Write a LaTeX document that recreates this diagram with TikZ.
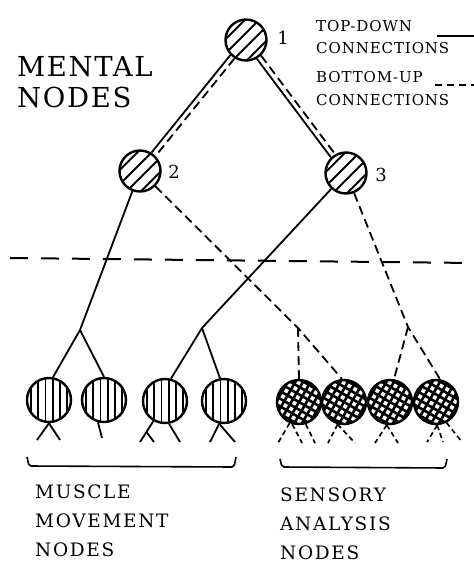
\documentclass[tikz,border=0pt]{standalone}
\usepackage{fontspec}
\setmainfont{DejaVu Serif}
\newfontfamily\bigsp[LetterSpace=6]{DejaVu Serif}
\newfontfamily\midsp[LetterSpace=9]{DejaVu Serif}
\newfontfamily\smallsp[LetterSpace=6]{DejaVu Serif}
\begin{document}
\begin{tikzpicture}[x=1pt,y=-1pt,
  ln/.style={line width=1.8pt},
  dsh/.style={line width=1.8pt,dash pattern=on 9pt off 5pt},
  legdash/.style={line width=1.7pt,dash pattern=on 5pt off 3.5pt},
  ring/.style={circle,draw,line width=2.4pt,inner sep=0pt,fill=white},
  mental/.style={ring,minimum size=41pt,
    path picture={\foreach \i in {-1.5,-0.5,0.5,1.5}{\draw[line width=2pt,shift={(path picture bounding box.center)}] ([shift={(-45:\i*10pt)}]45:30pt) -- ([shift={(-45:\i*10pt)}]225:30pt);}}},
  muscle/.style={ring,minimum size=44pt,
    path picture={\foreach \i in {-2.5,-1.5,-0.5,0.5,1.5,2.5}{\draw[line width=1.7pt,shift={(path picture bounding box.center)}] ([shift={(0:\i*7.3pt)}]90:30pt) -- ([shift={(0:\i*7.3pt)}]270:30pt);}}},
  sensory/.style={ring,minimum size=44pt,
    path picture={\foreach \i in {-4,...,4}{\draw[line width=2.6pt,shift={(path picture bounding box.center)}] ([shift={(-30:\i*6.6pt)}]60:30pt) -- ([shift={(-30:\i*6.6pt)}]240:30pt);
      \draw[line width=2.6pt,shift={(path picture bounding box.center)}] ([shift={(60:\i*6.6pt)}]-30:30pt) -- ([shift={(60:\i*6.6pt)}]150:30pt);}}},
  num/.style={inner sep=0pt,font=\fontsize{18}{22}\selectfont},
  biglbl/.style={inner sep=0pt,anchor=west,font=\fontsize{27.5}{33}\bigsp},
  botlbl/.style={inner sep=0pt,anchor=west,font=\fontsize{18.5}{22}\midsp},
  leglbl/.style={inner sep=0pt,anchor=west,font=\fontsize{15}{18}\smallsp},
  bracket/.style={line width=1.6pt,rounded corners=2pt}
]
\useasboundingbox (0,0) rectangle (474,563);

% mental nodes
\node[mental] (n1) at (246,40) {};
\node[mental] (n2) at (140,171) {};
\node[mental] (n3) at (346,173) {};
\node[num] (l1) at (283,38) {1};
\node[num] (l2) at (174,172) {2};
\node[num] (l3) at (381,175) {3};

% muscle movement nodes
\node[muscle] (A) at (49,400) {};
\node[muscle] (B) at (104,400) {};
\node[muscle] (C) at (165,401) {};
\node[muscle] (D) at (224,401) {};
% sensory analysis nodes
\node[sensory] (E) at (299,402) {};
\node[sensory] (F) at (344,402) {};
\node[sensory] (G) at (390,402) {};
\node[sensory] (H) at (436,402) {};

% branch points
\coordinate (b1) at (80,330);
\coordinate (b2) at (202,328);
\coordinate (b3) at (298,328);
\coordinate (b4) at (408,327);

% top connections (double)
\draw[ln] (n1.224) -- (n2.58);
\draw[dsh] (n1.238) -- (n2.44);
\draw[ln] (n1.300) -- (n3.134);
\draw[dsh] (n1.314) -- (n3.120);

% top-down
\draw[ln] (n2) -- (b1);
\draw[ln] (b1) -- (A.80);
\draw[ln] (b1) -- (B.north);
\draw[ln] (n3) -- (b2);
\draw[ln] (b2) -- (C.75);
\draw[ln] (b2) -- (D.100);
% bottom-up
\draw[dsh] (n2) -- (b3) -- (F.95);
\draw[dsh] (b3) -- (E.north);
\draw[dsh] (n3) -- (b4) -- (H.80);
\draw[dsh] (b4) -- (G.80);

% dividing line
\coordinate (h1) at (10,258);
\coordinate (h2) at (474,263);
\draw[line width=2pt,dash pattern=on 18pt off 13pt] (h1) -- (h2);

% muscle legs
\coordinate (a1) at (37,440); \coordinate (a2) at (60,440);
\draw[ln] (A.south) -- (a1);
\draw[ln] (A.south) -- (a2);
\coordinate (bb1) at (102,438);
\draw[ln] (B.255) -- (bb1);
\coordinate (c1) at (140,442); \coordinate (cj) at (146.5,432); \coordinate (c2) at (154,442); \coordinate (c3) at (180,442);
\draw[ln] (C.240) -- (c1);
\draw[ln] (cj) -- (c2);
\draw[ln] (C.280) -- (c3);
\coordinate (d1) at (210,442); \coordinate (d2) at (235,442);
\draw[ln] (D.258) -- (d1);
\draw[ln] (D.258) -- (d2);

% sensory legs
\coordinate (e1) at (278,443); \coordinate (e2) at (302,443); \coordinate (e3) at (315,443);
\draw[legdash] (E.246) -- (e1);
\draw[legdash] (E.253) -- (e2);
\draw[legdash] (E.287) -- (e3);
\coordinate (f1) at (328,443); \coordinate (f2) at (355,443);
\draw[legdash] (F.254) -- (f1);
\draw[legdash] (F.254) -- (f2);
\coordinate (g1) at (375,443); \coordinate (g2) at (398,443);
\draw[legdash] (G.262) -- (g1);
\draw[legdash] (G.262) -- (g2);
\coordinate (hh1) at (427,442); \coordinate (hh2) at (443,442); \coordinate (hh3) at (462,442);
\draw[legdash] (H.273) -- (hh1);
\draw[legdash] (H.273) -- (hh2);
\draw[legdash] (H.297) -- (hh3);

% brackets
\draw[bracket] (27,457) -- (29,466) -- (234,467) -- (236,457);
\draw[bracket] (280,459) -- (282,467) -- (445,468) -- (447,459);

% texts
\node[biglbl] (t1) at (17,67) {MENTAL};
\node[biglbl] (t2) at (17,97) {NODES};
\node[botlbl] (m1) at (35,492) {MUSCLE};
\node[botlbl] (m2) at (35,521) {MOVEMENT};
\node[botlbl] (m3) at (35,550) {NODES};
\node[botlbl] (s1) at (280,495) {SENSORY};
\node[botlbl] (s2) at (280,524) {ANALYSIS};
\node[botlbl] (s3) at (280,553) {NODES};

% legend
\node[leglbl] (td) at (316,26) {TOP-DOWN};
\node[leglbl] (tc) at (316,48) {CONNECTIONS};
\node[leglbl] (bu) at (316,77) {BOTTOM-UP};
\node[leglbl] (bc) at (316,100) {CONNECTIONS};
\coordinate (lt1) at (437,36); \coordinate (lt2) at (474,36);
\draw[ln] (lt1) -- (lt2);
\coordinate (lb1) at (435,85); \coordinate (lb2) at (474,85);
\draw[line width=1.8pt,dash pattern=on 7pt off 5pt] (lb1) -- (lb2);
\end{tikzpicture}
\end{document}
